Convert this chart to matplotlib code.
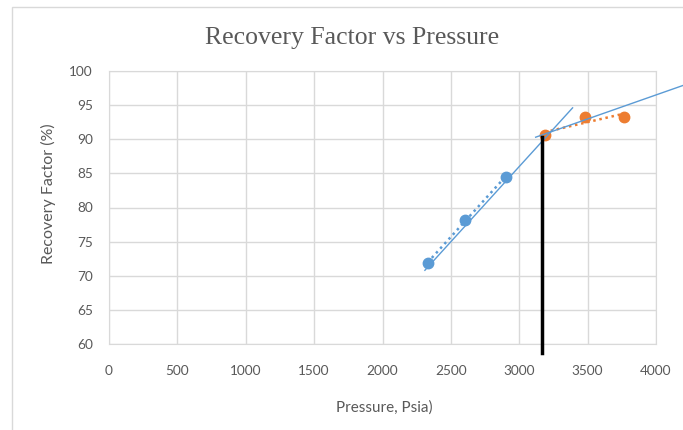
import matplotlib
matplotlib.use("Agg")
import matplotlib.pyplot as plt
from matplotlib.patches import Rectangle
import numpy as np

# Data
blue_p = [2330, 2605, 2900]
blue_rf = [71.9, 78.1, 84.5]
orange_p = [3185, 3480, 3765]
orange_rf = [90.6, 93.3, 93.3]

# hand-drawn tangent lines (endpoints) and the bubble-point marker
tan1_p = [2310, 3390]
tan1_rf = [70.8, 94.6]
tan2_p = [3120, 4200]
tan2_rf = [90.3, 97.9]
vline_p = 3170
vline_rf = [58.7, 90.3]

x_ticks = list(range(0, 4001, 500))
y_ticks = list(range(60, 101, 5))

BLUE = '#5B9BD5'
ORANGE = '#ED7D31'
TXT = '#595959'
tick_font = ['Lato', 'DejaVu Sans']

fig = plt.figure(figsize=(6.83, 4.30), dpi=100)
ax = fig.add_axes([109/683, 1 - 344/430, (656 - 109)/683, (344 - 71)/430])

# chart border
fig.patches.append(Rectangle((12/683, -0.01), 1.0, 1 - 7/430 + 0.01, transform=fig.transFigure,
                             fill=False, edgecolor='#D9D9D9', linewidth=1.0))

ax.set_xlim(0, 4000)
ax.set_ylim(60, 100)
ax.set_xticks(x_ticks)
ax.set_yticks(y_ticks)
ax.grid(True, color='#D9D9D9', linewidth=1.0)
ax.set_axisbelow(True)
for s in ax.spines.values():
    s.set_color('#D9D9D9')
ax.tick_params(length=0, colors=TXT, labelsize=9.8)
ax.tick_params(axis='x', pad=15)
ax.tick_params(axis='y', pad=11.5)
for lbl in ax.get_xticklabels() + ax.get_yticklabels():
    lbl.set_family(tick_font)

# trendlines (linear fits, dotted)
for px, ry, c in [(blue_p, blue_rf, BLUE), (orange_p, orange_rf, ORANGE)]:
    k, b = np.polyfit(px, ry, 1)
    xx = np.array([px[0], px[-1]])
    ax.plot(xx, k * xx + b, linestyle=(0, (1, 1.5)), color=c, linewidth=1.8, zorder=2)

ax.plot(blue_p, blue_rf, 'o', color=BLUE, markersize=7.5, zorder=3)
ax.plot(orange_p, orange_rf, 'o', color=ORANGE, markersize=7.5, zorder=3)

ax.plot(tan1_p, tan1_rf, color=BLUE, linewidth=1.0, zorder=4)
ax.plot(tan2_p, tan2_rf, color=BLUE, linewidth=1.0, zorder=4, clip_on=False)
ax.plot([vline_p, vline_p], vline_rf, color='black', linewidth=2.5, zorder=5, clip_on=False)

fig.text(352/683, 1 - 38/430, 'Recovery Factor vs Pressure', family=['Liberation Serif', 'DejaVu Serif'],
         fontsize=18.5, color=TXT, ha='center', va='center')
ax.set_xlabel('Pressure, Psia)', family=tick_font, fontsize=11, color=TXT, va='center')
ax.xaxis.set_label_coords((384 - 109)/547, (344 - 408)/273)
ax.set_ylabel('Recovery Factor (%)', family=tick_font, fontsize=11.5, color=TXT, va='center')
ax.yaxis.set_label_coords((48 - 109)/547, (344 - 194)/273)

fig.savefig('out.png', dpi=100)
